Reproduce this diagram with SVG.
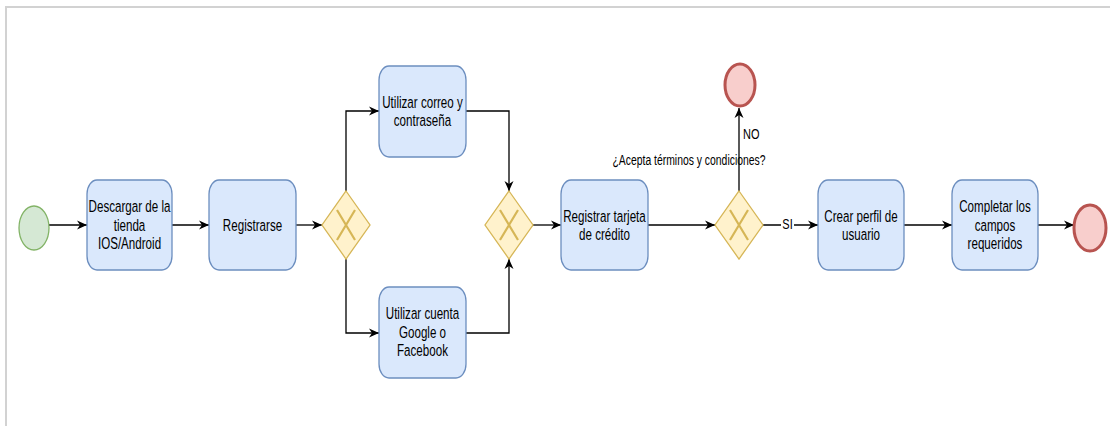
<svg xmlns="http://www.w3.org/2000/svg" width="1110" height="426" viewBox="0 0 1110 426">
<defs>
<style>
.task{fill:#dae8fc;stroke:#6c8ebf;stroke-width:1.3}
.gw{fill:#fff2cc;stroke:#d6b656;stroke-width:1.3}
.gx{stroke:#d6b656;stroke-width:2.2;fill:none}
.start{fill:#d5e8d4;stroke:#82b366;stroke-width:1.3}
.end{fill:#f8cecc;stroke:#b85450;stroke-width:3}
.edge{fill:none;stroke:#000;stroke-width:1.3;marker-end:url(#arr)}
.t{font-family:"Liberation Sans",Arial,sans-serif;font-size:11.6px;fill:#000;text-anchor:middle}
.lbl{font-family:"Liberation Sans",Arial,sans-serif;font-size:11px;fill:#000}
</style>
<marker id="arr" markerUnits="userSpaceOnUse" markerWidth="11" markerHeight="10" refX="10" refY="5" orient="auto">
<path d="M0,0.5 L10,5 L0,9.5 L3,5 Z" fill="#000"/>
</marker>
</defs>
<rect width="1110" height="426" fill="#fff"/>
<path d="M6 426 V7 H1110" fill="none" stroke="#d2d2d2" stroke-width="2"/>

<g id="connectors">
<path class="edge" d="M49 225 H87"/>
<path class="edge" d="M172 225 H209"/>
<path class="edge" d="M296 225 H322"/>
<path class="edge" d="M346 191 V111 H379"/>
<path class="edge" d="M346 259 V333 H379"/>
<path class="edge" d="M466 111 H509 V191"/>
<path class="edge" d="M466 333 H509 V259"/>
<path class="edge" d="M533 225 H561"/>
<path class="edge" d="M648 225 H715"/>
<path class="edge" d="M739 191 V108"/>
<path class="edge" d="M763 225 H818"/>
<path class="edge" d="M904 225 H952"/>
<path class="edge" d="M1038 225 H1074"/>
<rect x="781" y="218" width="13" height="14" fill="#fff"/>
<text class="lbl" x="787.5" y="229.5" text-anchor="middle" transform="translate(0,229.5) scale(1,1.3) translate(0,-229.5)">SI</text>
<text class="lbl" x="743" y="139" transform="translate(0,139) scale(1,1.3) translate(0,-139)">NO</text>
<text class="lbl" x="689" y="165" text-anchor="middle" style="font-size:10.4px" transform="translate(0,165) scale(1,1.35) translate(0,-165)">¿Acepta términos y condiciones?</text>
</g>

<g id="start">
<ellipse class="start" cx="34" cy="228" rx="15" ry="22"/>
</g>

<g id="task-descargar">
<rect class="task" x="87" y="180" width="85" height="90" rx="10" ry="14"/>
<text class="t" transform="translate(129.5,225) scale(1,1.4)"><tspan x="0" y="-9">Descargar de la</tspan><tspan x="0" y="4">tienda</tspan><tspan x="0" y="17">IOS/Android</tspan></text>
</g>

<g id="task-registrarse">
<rect class="task" x="209" y="180" width="87" height="90" rx="10" ry="14"/>
<text class="t" transform="translate(252.5,225) scale(1,1.4)"><tspan x="0" y="4">Registrarse</tspan></text>
</g>

<g id="gateway-1">
<polygon class="gw" points="346,191 370,225 346,259 322,225"/>
<path class="gx" d="M337 210 L355 240 M355 210 L337 240"/>
</g>

<g id="task-correo">
<rect class="task" x="379" y="66" width="87" height="91" rx="10" ry="14"/>
<text class="t" transform="translate(422.5,111) scale(1,1.4)"><tspan x="0" y="-2.5">Utilizar correo y</tspan><tspan x="0" y="10.5">contraseña</tspan></text>
</g>

<g id="task-google">
<rect class="task" x="379" y="287" width="87" height="91" rx="10" ry="14"/>
<text class="t" transform="translate(422.5,332) scale(1,1.4)"><tspan x="0" y="-9">Utilizar cuenta</tspan><tspan x="0" y="4">Google o</tspan><tspan x="0" y="17">Facebook</tspan></text>
</g>

<g id="gateway-2">
<polygon class="gw" points="509,191 533,225 509,259 485,225"/>
<path class="gx" d="M500 210 L518 240 M518 210 L500 240"/>
</g>

<g id="task-tarjeta">
<rect class="task" x="561" y="180" width="87" height="90" rx="10" ry="14"/>
<text class="t" transform="translate(604.5,225) scale(1,1.4)"><tspan x="0" y="-2">Registrar tarjeta</tspan><tspan x="0" y="11">de crédito</tspan></text>
</g>

<g id="gateway-3">
<polygon class="gw" points="739,191 763,225 739,259 715,225"/>
<path class="gx" d="M730 210 L748 240 M748 210 L730 240"/>
</g>

<g id="end-no">
<ellipse class="end" cx="740" cy="85" rx="15" ry="21"/>
</g>

<g id="task-perfil">
<rect class="task" x="818" y="180" width="86" height="90" rx="10" ry="14"/>
<text class="t" transform="translate(861,225) scale(1,1.4)"><tspan x="0" y="-2">Crear perfil de</tspan><tspan x="0" y="11">usuario</tspan></text>
</g>

<g id="task-completar">
<rect class="task" x="952" y="180" width="86" height="90" rx="10" ry="14"/>
<text class="t" transform="translate(995,225) scale(1,1.4)"><tspan x="0" y="-9">Completar los</tspan><tspan x="0" y="4">campos</tspan><tspan x="0" y="17">requeridos</tspan></text>
</g>

<g id="end">
<ellipse class="end" cx="1090" cy="228" rx="16" ry="23"/>
</g>
</svg>
